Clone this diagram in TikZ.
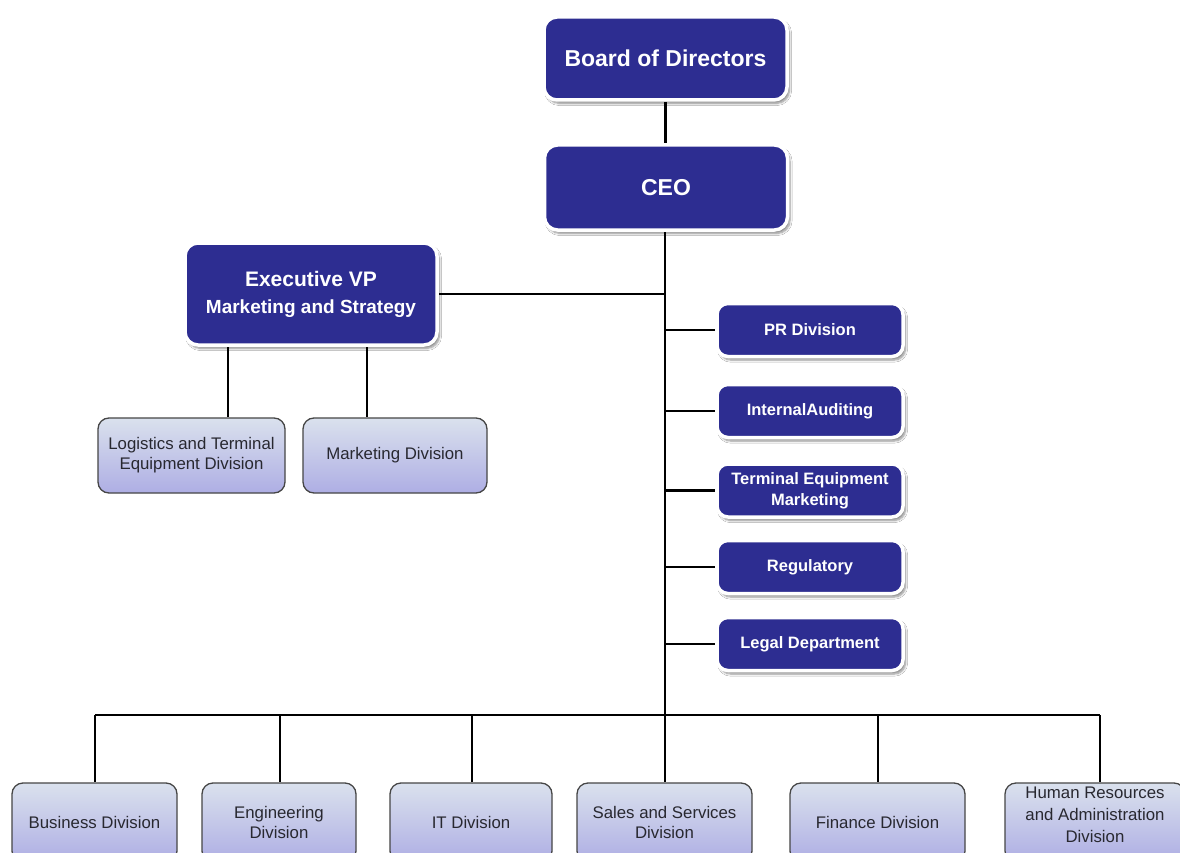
\documentclass[tikz,border=0pt]{standalone}
\usepackage{fontspec}
\setmainfont{Liberation Sans}
\usetikzlibrary{shadows,shadows.blur,backgrounds}
\definecolor{navy}{RGB}{45,45,145}
\definecolor{lighttop}{RGB}{218,225,237}
\definecolor{lightbot}{RGB}{174,174,228}
\definecolor{boxline}{RGB}{70,70,70}
\definecolor{lighttext}{RGB}{40,40,48}
\tikzset{
  darkbox/.style={draw=white, line width=3.5pt, fill=navy, rounded corners=13pt,
    text=white, font=\bfseries, align=center, inner sep=2pt,
    blur shadow={shadow xshift=2.5pt, shadow yshift=-3.5pt, shadow opacity=45, shadow blur steps=6}},
  lightbox/.style={draw=boxline, line width=1.3pt, top color=lighttop, bottom color=lightbot,
    rounded corners=11pt, text=lighttext, align=center, inner sep=2pt,
    font=\fontsize{16.8}{20}\selectfont},
  link/.style={draw=black, line width=2.8pt},
}
\begin{document}
\begin{tikzpicture}[x=1pt, y=-1pt]
\clip (0,0) rectangle (1180,853);

% top of the hierarchy
\node[darkbox, minimum width=243pt, minimum height=83pt, font=\bfseries\fontsize{23}{28}\selectfont]
  (bod) at (665.5,58.5) {Board of Directors};
\node[darkbox, minimum width=243pt, minimum height=85pt, font=\bfseries\fontsize{23}{28}\selectfont]
  (ceo) at (666,187.5) {CEO};

% executive VP and its divisions
\node[darkbox, minimum width=252pt, minimum height=102pt, font=\bfseries\fontsize{19}{27}\selectfont]
  (vp) at (311,294) {{\fontsize{21}{27}\selectfont Executive VP}\\Marketing and Strategy};
\node[lightbox, minimum width=187pt, minimum height=75pt] (log) at (191.5,455.5)
  {Logistics and Terminal\\Equipment Division};
\node[lightbox, minimum width=184pt, minimum height=75pt] (mkt) at (395,455.5)
  {Marketing Division};

% staff units beside the CEO spine
\tikzset{staff/.style={darkbox, minimum width=186pt, minimum height=53pt, rounded corners=11pt,
  font=\bfseries\fontsize{16.5}{21}\selectfont}}
\node[staff] (pr)  at (810,330)   {PR Division};
\node[staff] (ia)  at (810,411)   {InternalAuditing};
\node[staff] (tem) at (810,490.5) {Terminal Equipment\\Marketing};
\node[staff] (reg) at (810,567)   {Regulatory};
\node[staff] (leg) at (810,644)   {Legal Department};

% line divisions
\tikzset{division/.style={lightbox, minimum height=79pt}}
\node[division, minimum width=165pt] (bus)   at (94.5,822.5)  {Business Division};
\node[division, minimum width=154pt] (eng)   at (279,822.5)   {Engineering\\Division};
\node[division, minimum width=162pt] (it)    at (471,822.5)   {IT Division};
\node[division, minimum width=175pt] (sales) at (664.5,822.5) {Sales and Services\\Division};
\node[division, minimum width=175pt] (fin)   at (877.5,822.5) {Finance Division};
\node[division, minimum width=180pt, font=\fontsize{16.8}{22}\selectfont, text depth=16pt]
  (hr) at (1095,822.5) {Human Resources\\and Administration\\Division};

% connectors
\coordinate (spine) at (665,715);
\coordinate (busL) at (95,715);
\coordinate (busR) at (1100,715);
\coordinate (vpL) at (228,0);
\coordinate (vpR) at (367,0);
\coordinate (d1) at (95,715);
\coordinate (d2) at (280,715);
\coordinate (d3) at (472,715);
\coordinate (d4) at (665,715);
\coordinate (d5) at (878,715);
\coordinate (d6) at (1100,715);

\begin{scope}[on background layer]
\fill[white] (0,0) rectangle (1180,853);
\path[link] (bod.south) -- (bod.south |- ceo.north);
\path[link] (ceo.south -| spine) -- (spine);
\path[link] (busL) -- (busR);
\path[link] (vp.east) -- (vp.east -| spine);
\path[link] (vp.south -| vpL) -- (log.north -| vpL);
\path[link] (vp.south -| vpR) -- (mkt.north -| vpR);
\foreach \n in {pr,ia,tem,reg,leg}
  \path[link] (\n.west -| spine) -- (\n.west);
\path[link] (d1) -- (d1 |- bus.north);
\path[link] (d2) -- (d2 |- eng.north);
\path[link] (d3) -- (d3 |- it.north);
\path[link] (d4) -- (d4 |- sales.north);
\path[link] (d5) -- (d5 |- fin.north);
\path[link] (d6) -- (d6 |- hr.north);
\end{scope}
\end{tikzpicture}
\end{document}
